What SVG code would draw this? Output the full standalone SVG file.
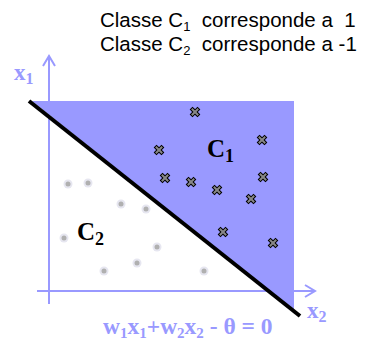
<svg xmlns="http://www.w3.org/2000/svg" width="365" height="340" viewBox="0 0 365 340">
<style>
.ax{stroke:#9999ff;stroke-width:2;fill:none}
.lbl{font-family:"Liberation Serif",serif;font-weight:bold;fill:#9999ff}
.cls{font-family:"Liberation Serif",serif;font-weight:bold;fill:#000}
.top{font-family:"Liberation Sans",Arial,sans-serif;font-size:20.5px;fill:#000}
.xo{stroke:#000;stroke-width:4;stroke-linecap:square}
.xi{stroke:#888;stroke-width:2;stroke-linecap:square}
</style>
<defs>
<g id="cross"><path class="xo" d="M-2.5,-2.5L2.5,2.5M-2.5,2.5L2.5,-2.5"/><path class="xi" d="M-2.5,-2.5L2.5,2.5M-2.5,2.5L2.5,-2.5"/></g>
<g id="dot"><circle r="4.5" fill="#e6e6f0"/><circle r="2.5" fill="#b0b0b0"/></g>
</defs>
<g id="header">
<text class="top" x="100" y="27" xml:space="preserve">Classe C<tspan font-size="13" dy="4">1</tspan><tspan dy="-4">  corresponde a  1</tspan></text>
<text class="top" x="100" y="51" xml:space="preserve">Classe C<tspan font-size="13" dy="4">2</tspan><tspan dy="-4">  corresponde a -1</tspan></text>
</g>
<g id="region-c1">
<polygon points="32,101 294,101 294,311" fill="#9999ff"/>
</g>
<g id="axes">
<path class="ax" d="M49,304V56M43,66L49,56L55,66"/>
<path class="ax" d="M37,291H315M305,285L315,291L305,297"/>
<text class="lbl" x="14" y="80" font-size="23">x<tspan font-size="16" dy="4">1</tspan></text>
<text class="lbl" x="307" y="318" font-size="23">x<tspan font-size="16" dy="4">2</tspan></text>
</g>
<g id="connectors">
<line x1="29" y1="101" x2="300" y2="316" stroke="#000" stroke-width="4"/>
</g>
<g id="points-c1">
<use href="#cross" x="195" y="112"/>
<use href="#cross" x="262" y="140"/>
<use href="#cross" x="159" y="150"/>
<use href="#cross" x="165" y="178"/>
<use href="#cross" x="191" y="182"/>
<use href="#cross" x="217" y="190"/>
<use href="#cross" x="263" y="177"/>
<use href="#cross" x="251" y="199"/>
<use href="#cross" x="223" y="232"/>
<use href="#cross" x="273" y="243"/>
</g>
<g id="points-c2">
<use href="#dot" x="68" y="184"/>
<use href="#dot" x="88" y="183"/>
<use href="#dot" x="121" y="204"/>
<use href="#dot" x="146" y="209"/>
<use href="#dot" x="64" y="238"/>
<use href="#dot" x="157" y="247"/>
<use href="#dot" x="137" y="263"/>
<use href="#dot" x="104" y="271"/>
<use href="#dot" x="204" y="271"/>
</g>
<g id="label-c1"><text class="cls" x="207" y="157" font-size="25">C<tspan font-size="18" dy="5">1</tspan></text></g>
<g id="label-c2"><text class="cls" x="77" y="240" font-size="25">C<tspan font-size="18" dy="5">2</tspan></text></g>
<g id="equation">
<text class="lbl" x="103" y="334" font-size="23.5">w<tspan font-size="15" dy="4">1</tspan><tspan dy="-4">x</tspan><tspan font-size="15" dy="4">1</tspan><tspan dy="-4">+w</tspan><tspan font-size="15" dy="4">2</tspan><tspan dy="-4">x</tspan><tspan font-size="15" dy="4">2</tspan><tspan dy="-4"> - θ = 0</tspan></text>
</g>
</svg>
